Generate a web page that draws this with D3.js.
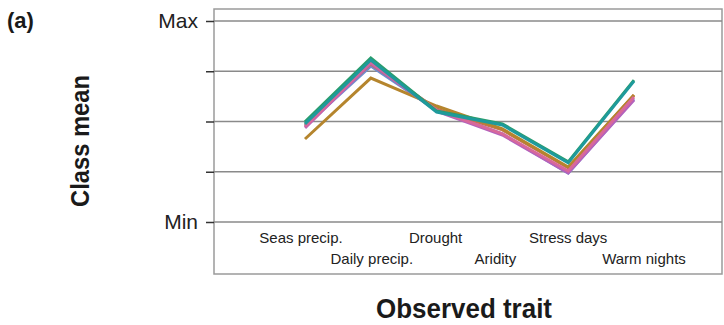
<!DOCTYPE html>
<html>
<head>
<meta charset="utf-8">
<script src="https://cdn.jsdelivr.net/npm/d3@7"></script>
<style>
  body { margin: 0; background: #fff; }
  svg { display: block; }
</style>
</head>
<body>
<svg id="chart" width="724" height="325"></svg>
<script>
// traits along the x axis, in order
const traits = ["Seas precip.", "Daily precip.", "Drought", "Aridity", "Stress days", "Warm nights"];
// small nudges of the trait labels relative to their points
const labelShift = [-4, 1, -1, -7, 0, 10];
// y axis ticks (0 = Min, 1 = Max)
const tickValues = [0, 0.25, 0.5, 0.75, 1];
const tickLabels = { 0: "Min", 1: "Max" };

// class means per series
const greenVals  = [0.498, 0.816, 0.552, 0.488, 0.299, 0.706];
const tealVals   = [0.488, 0.806, 0.547, 0.483, 0.294, 0.701];
const blueVals   = [0.478, 0.776, 0.557, 0.438, 0.244, 0.612];
const purpleVals = [0.468, 0.791, 0.552, 0.433, 0.244, 0.607];
const pinkVals   = [0.473, 0.796, 0.557, 0.438, 0.254, 0.622];
const brickVals  = [0.483, 0.786, 0.562, 0.458, 0.269, 0.632];
const goldVals   = [0.413, 0.716, 0.577, 0.463, 0.274, 0.632];

const series = [
  { name: "blue",   color: "#6f8bd0", values: blueVals },
  { name: "brick",  color: "#c8714f", values: brickVals },
  { name: "gold",   color: "#b5852d", values: goldVals },
  { name: "purple", color: "#b462bc", values: purpleVals },
  { name: "pink",   color: "#d8689a", values: pinkVals },
  { name: "green",  color: "#2a9d6c", values: greenVals },
  { name: "teal",   color: "#1e9a9c", values: tealVals }
];

const svg = d3.select("#chart");

// plot box
const box = { left: 214, right: 722, top: 9, bottom: 274 };

const x = d3.scalePoint()
  .domain(traits)
  .range([305, 634]);

const y = d3.scaleLinear()
  .domain([0, 1])
  .range([222, 21]);

// frame
svg.append("rect")
  .attr("x", box.left)
  .attr("y", box.top)
  .attr("width", box.right - box.left)
  .attr("height", box.bottom - box.top)
  .attr("fill", "none")
  .attr("stroke", "#9a9a9a")
  .attr("stroke-width", 1.5);

// gridlines
svg.selectAll(".grid")
  .data(tickValues)
  .enter()
  .append("line")
  .attr("class", "grid")
  .attr("x1", box.left)
  .attr("x2", box.right)
  .attr("y1", d => y(d))
  .attr("y2", d => y(d))
  .attr("stroke", "#8a8a8a")
  .attr("stroke-width", 1.5);

// y axis (ticks only outside the frame)
const yAxis = d3.axisLeft(y)
  .tickValues(tickValues)
  .tickSize(8)
  .tickPadding(8)
  .tickFormat(d => tickLabels[d] || "");

const yG = svg.append("g")
  .attr("transform", `translate(${box.left},0)`)
  .call(yAxis);

yG.select(".domain").remove();
yG.selectAll(".tick line").attr("stroke", "#333").attr("stroke-width", 1.5);
yG.selectAll(".tick text")
  .attr("fill", "#222")
  .style("font-family", "'Liberation Sans', Arial, sans-serif")
  .style("font-size", "21px");

// category labels, staggered in two rows
svg.selectAll(".cat")
  .data(traits)
  .enter()
  .append("text")
  .attr("class", "cat")
  .attr("x", (d, i) => x(d) + labelShift[i])
  .attr("y", (d, i) => i % 2 === 0 ? 243 : 264)
  .attr("text-anchor", "middle")
  .attr("fill", "#222")
  .style("font-family", "'Liberation Sans', Arial, sans-serif")
  .style("font-size", "15px")
  .text(d => d);

// lines
const line = d3.line()
  .x((d, i) => x(traits[i]))
  .y(d => y(d));

svg.selectAll(".series")
  .data(series)
  .enter()
  .append("path")
  .attr("class", "series")
  .attr("d", d => line(d.values))
  .attr("fill", "none")
  .attr("stroke", d => d.color)
  .attr("stroke-width", 3)
  .attr("stroke-linejoin", "miter");

// axis titles (condensed bold)
svg.append("text")
  .attr("x", (box.left + box.right) / 2 - 4)
  .attr("y", 318)
  .attr("text-anchor", "middle")
  .attr("fill", "#1a1a1a")
  .style("font-family", "'Liberation Sans', sans-serif")
  .style("font-weight", "bold")
  .style("font-size", "27px")
  .attr("textLength", 176)
  .attr("lengthAdjust", "spacingAndGlyphs")
  .text("Observed trait");

svg.append("text")
  .attr("transform", "translate(89,141) rotate(-90)")
  .attr("text-anchor", "middle")
  .attr("fill", "#1a1a1a")
  .style("font-family", "'Liberation Sans', sans-serif")
  .style("font-weight", "bold")
  .style("font-size", "25px")
  .attr("textLength", 132)
  .attr("lengthAdjust", "spacingAndGlyphs")
  .text("Class mean");

// panel label
svg.append("text")
  .attr("x", 7)
  .attr("y", 28)
  .attr("fill", "#1a1a1a")
  .style("font-family", "'Liberation Sans', Arial, sans-serif")
  .style("font-weight", "bold")
  .style("font-size", "22px")
  .text("(a)");
</script>
</body>
</html>
